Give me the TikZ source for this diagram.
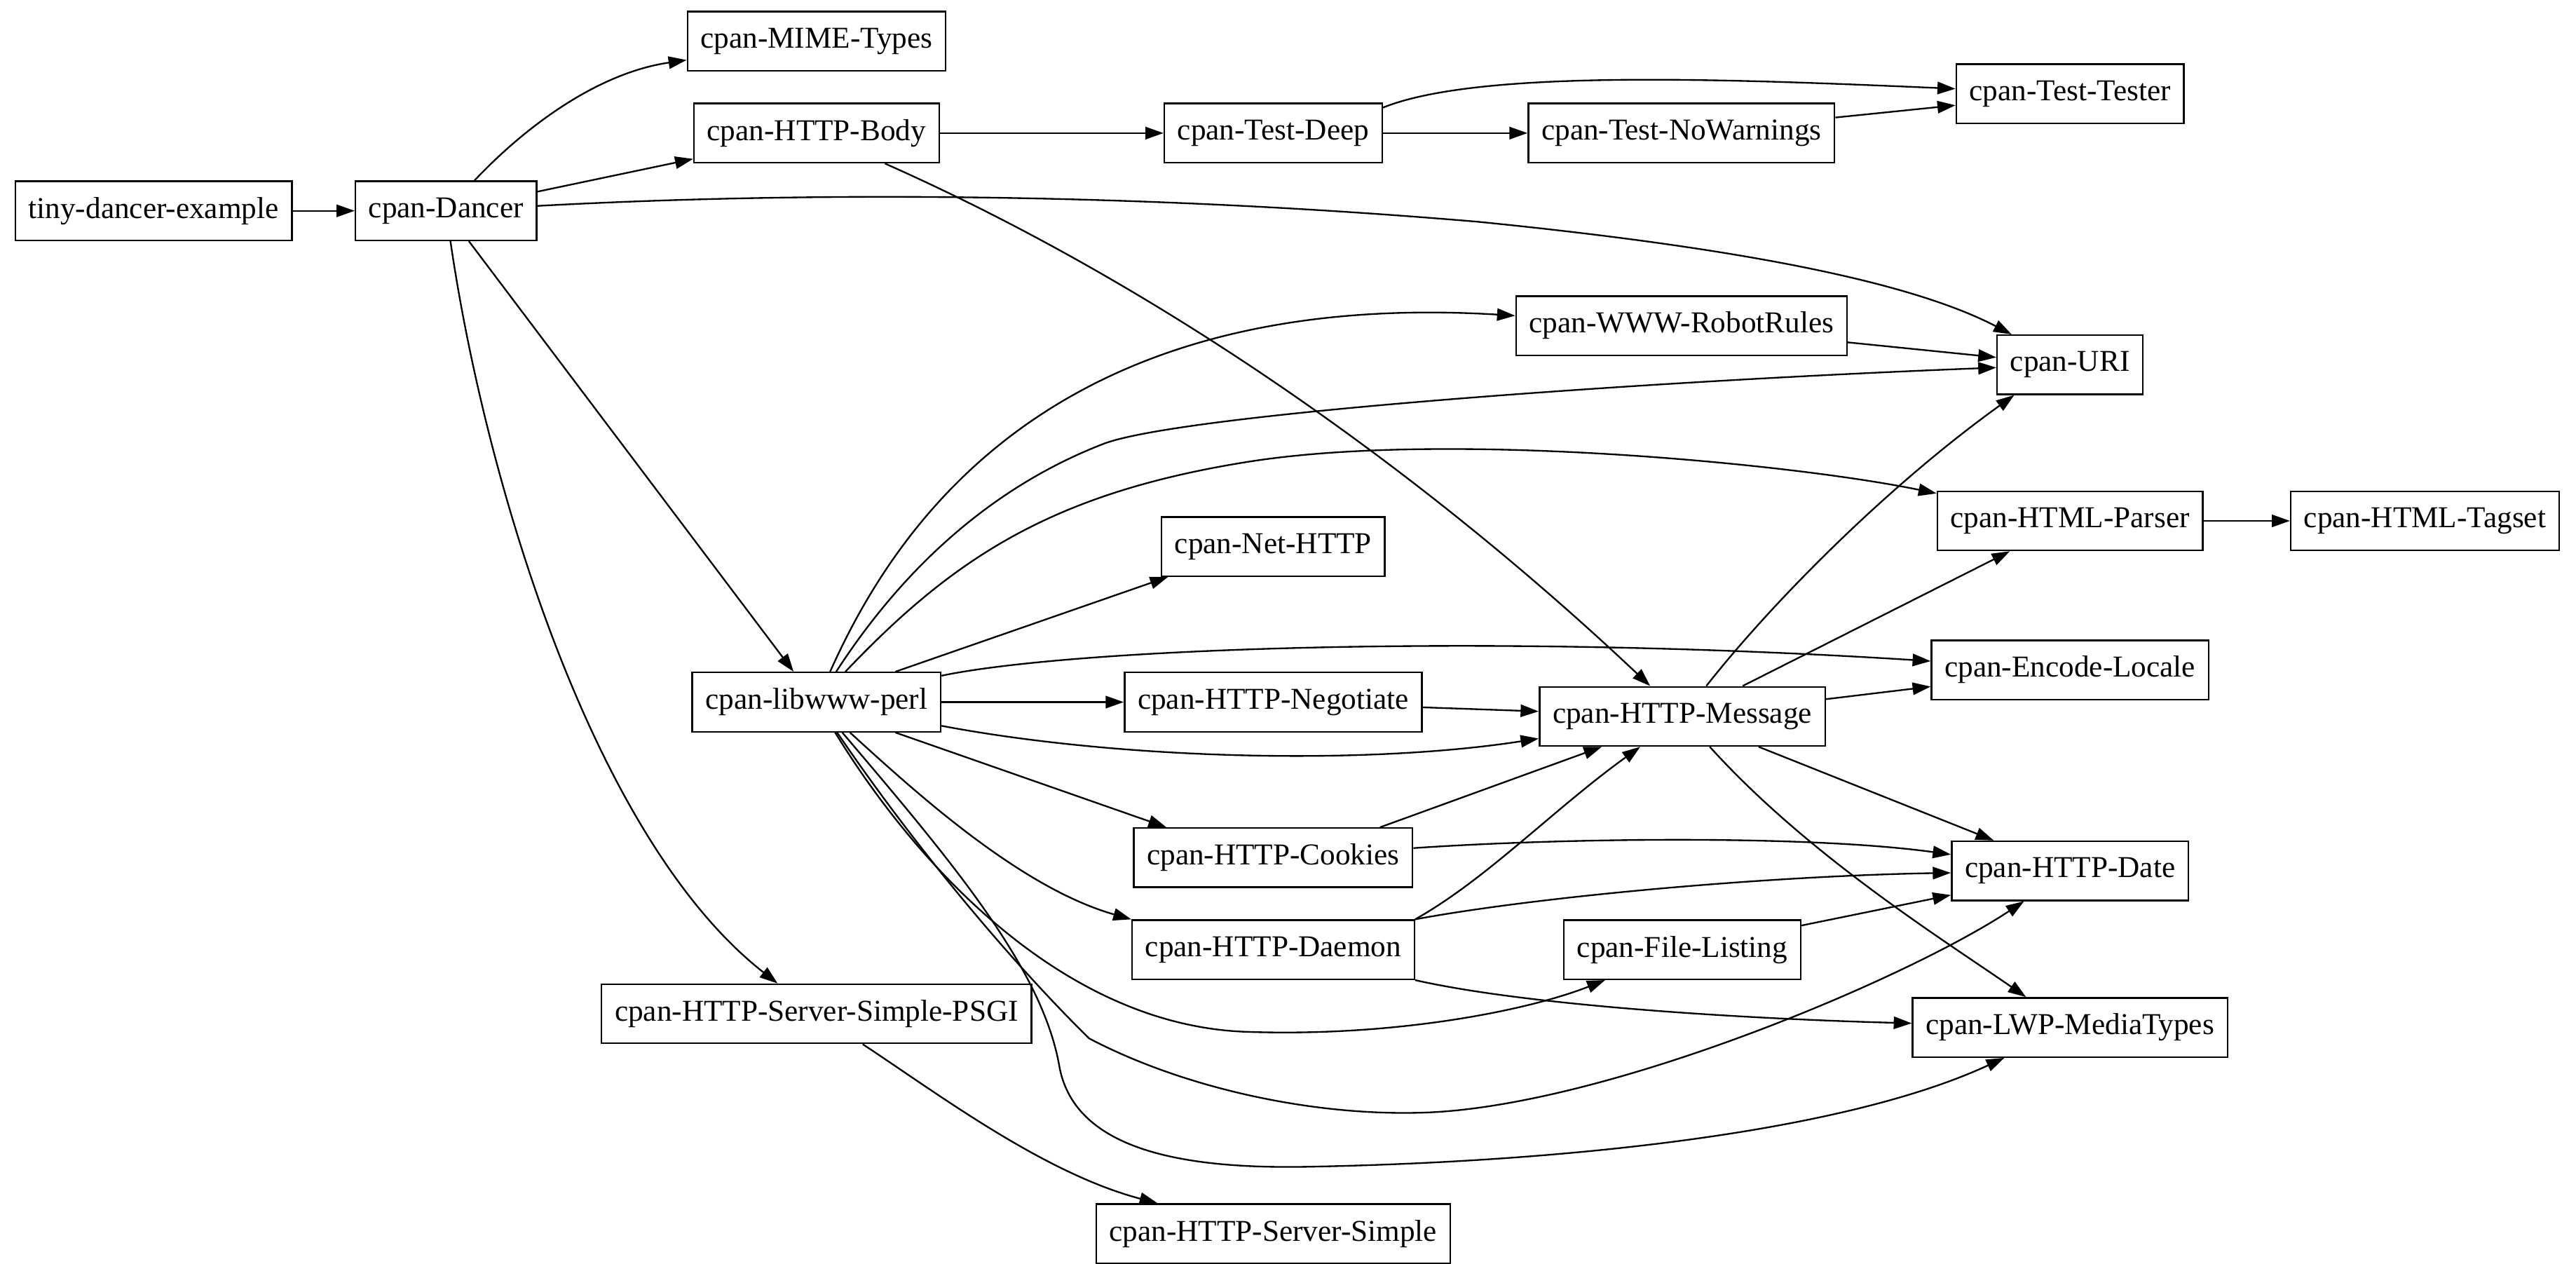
\documentclass[tikz,border=0pt]{standalone}
\usepackage{fontspec}
\setmainfont{Liberation Serif}
\usepackage{tikz}
\usetikzlibrary{arrows.meta,positioning}

\tikzset{
  pkg/.style={draw, rectangle, line width=1pt, minimum height=36pt,
    inner xsep=8pt, inner ysep=2pt, font=\fontsize{18.45pt}{22pt}\selectfont},
  dep/.style={line width=1pt, -{Triangle[length=11pt,width=7.5pt]}}
}

\begin{document}
\begin{tikzpicture}[x=1pt,y=-1pt]
  \useasboundingbox (0,0) rectangle (1568,769);
  % packages, one column per rank
  \node[pkg] (tiny) at (93.5,128.3) {tiny-dancer-example};
  \node[pkg] (dancer) at (271.5,128.3) {cpan-Dancer};
  \node[pkg] (mime) at (497,25) {cpan-MIME-Types};
  \node[pkg] (body) at (497,81) {cpan-HTTP-Body};
  \node[pkg] (libwww) at (497,427.3) {cpan-libwww-perl};
  \node[pkg] (psgi) at (497,617) {cpan-HTTP-Server-Simple-PSGI};
  \node[pkg] (deep) at (775,81) {cpan-Test-Deep};
  \node[pkg] (nethttp) at (775,332.6) {cpan-Net-HTTP};
  \node[pkg] (negotiate) at (775,427.3) {cpan-HTTP-Negotiate};
  \node[pkg] (cookies) at (775,522) {cpan-HTTP-Cookies};
  \node[pkg] (daemon) at (775,578) {cpan-HTTP-Daemon};
  \node[pkg] (server) at (775,750.8) {cpan-HTTP-Server-Simple};
  \node[pkg] (nowarn) at (1023.5,81) {cpan-Test-NoWarnings};
  \node[pkg] (robot) at (1023.5,198.2) {cpan-WWW-RobotRules};
  \node[pkg] (message) at (1024,436) {cpan-HTTP-Message};
  \node[pkg] (filelist) at (1024,578) {cpan-File-Listing};
  \node[pkg] (tester) at (1260,57) {cpan-Test-Tester};
  \node[pkg] (uri) at (1260,222) {cpan-URI};
  \node[pkg] (parser) at (1260,317) {cpan-HTML-Parser};
  \node[pkg] (encode) at (1260,407.7) {cpan-Encode-Locale};
  \node[pkg] (date) at (1260,530) {cpan-HTTP-Date};
  \node[pkg] (media) at (1260,625.3) {cpan-LWP-MediaTypes};
  \node[pkg] (tagset) at (1476,317) {cpan-HTML-Tagset};

  % dependencies
  \draw[dep] (tiny) -- (dancer);
  \draw[dep] (dancer) .. controls (315,82) and (360,45) .. (mime);
  \draw[dep] (dancer) -- (body);
  \draw[dep] (dancer) .. controls (500,116) and (700,118) .. (900,135) .. controls (1050,150) and (1160,170) .. (uri);
  \draw[dep] (dancer) -- (libwww);
  \draw[dep] (dancer) .. controls (295,290) and (360,510) .. (psgi);
  \draw[dep] (body) -- (deep);
  \draw[dep] (body) .. controls (720,180) and (880,300) .. (message);
  \draw[dep] ([yshift=-3pt]deep.north east) .. controls (900,42) and (1050,48) .. (tester);
  \draw[dep] (deep) -- (nowarn);
  \draw[dep] (nowarn) -- (tester);
  \draw[dep] (robot) -- (uri);
  \draw[dep] (libwww) .. controls (545,320) and (640,175) .. (robot);
  \draw[dep] (libwww) .. controls (560,330) and (620,290) .. (672,270) .. controls (720,252) and (1000,232) .. (uri);
  \draw[dep] (libwww) .. controls (580,340) and (640,300) .. (760,281) .. controls (880,262) and (1090,282) .. (parser);
  \draw[dep] ([xshift=48pt]libwww.north) -- ([xshift=-64pt]nethttp.south);
  \draw[dep] (libwww) .. controls (650,395) and (900,385) .. (encode);
  \draw[dep] (libwww) -- (negotiate);
  \draw[dep] (libwww) .. controls (680,462) and (830,466) .. (message);
  \draw[dep] ([xshift=48pt]libwww.south) -- ([xshift=-65pt]cookies.north);
  \draw[dep] (libwww) .. controls (555,480) and (620,540) .. (daemon.north west);
  \draw[dep] (libwww) .. controls (560,530) and (650,625) .. (760,628) .. controls (850,631) and (930,615) .. (filelist);
  \draw[dep] (libwww) .. controls (560,520) and (620,590) .. (663,632) .. controls (720,662) and (800,680) .. (870,677) .. controls (980,672) and (1160,596) .. (date);
  \draw[dep] (libwww) .. controls (580,525) and (635,590) .. (645,650) .. controls (655,700) and (720,712) .. (800,710) .. controls (950,707) and (1120,690) .. (media);
  \draw[dep] (negotiate) -- (message);
  \draw[dep] ([xshift=65pt]cookies.north) -- ([xshift=-49pt]message.south);
  \draw[dep] (cookies) .. controls (950,510) and (1100,508) .. (date);
  \draw[dep] (daemon.north east) .. controls (905,535) and (945,493) .. (message);
  \draw[dep] (daemon.north east) .. controls (940,545) and (1080,533) .. (date);
  \draw[dep] (daemon.south east) .. controls (930,612) and (1060,620) .. (media);
  \draw[dep] (filelist) -- (date);
  \draw[dep] (message) .. controls (1080,365) and (1150,295) .. ([xshift=-34pt]uri.south);
  \draw[dep] (message) -- (parser);
  \draw[dep] (message) -- (encode);
  \draw[dep] (message) -- (date);
  \draw[dep] (message) .. controls (1100,520) and (1180,570) .. (media);
  \draw[dep] (parser) -- (tagset);
  \draw[dep] (psgi) .. controls (570,665) and (635,714) .. (server);
\end{tikzpicture}
\end{document}
